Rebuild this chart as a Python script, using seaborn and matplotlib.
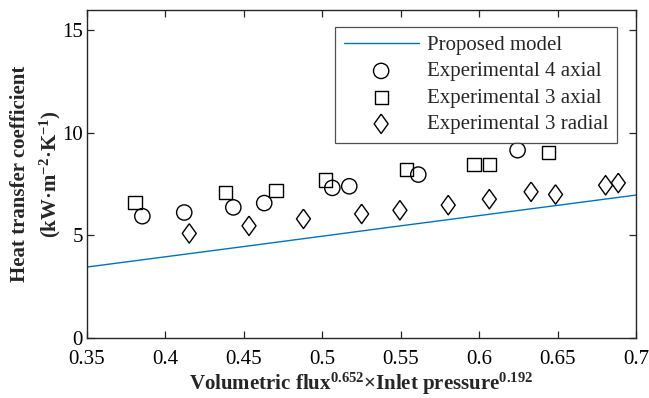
import numpy as np
import pandas as pd
import matplotlib
matplotlib.use("Agg")
import matplotlib.pyplot as plt
import seaborn as sns

# ---- data ----
model_x = [0.35, 0.45, 0.55, 0.70]
model_y = [3.46, 4.46, 5.47, 6.97]

axial4_x = [0.3853, 0.412, 0.4433, 0.463, 0.5064, 0.5172, 0.5612, 0.6245]
axial4_y = [5.94, 6.12, 6.37, 6.58, 7.32, 7.40, 7.97, 9.16]

axial3_x = [0.3806, 0.4384, 0.4705, 0.5019, 0.5538, 0.5967, 0.6065, 0.644]
axial3_y = [6.61, 7.10, 7.21, 7.71, 8.22, 8.48, 8.46, 9.03]

radial3_x = [0.4152, 0.4533, 0.488, 0.5251, 0.5495, 0.5803, 0.6065, 0.6331, 0.6487, 0.6806, 0.6887]
radial3_y = [5.10, 5.47, 5.81, 6.05, 6.23, 6.48, 6.77, 7.13, 7.00, 7.45, 7.56]

xticks = [0.35, 0.4, 0.45, 0.5, 0.55, 0.6, 0.65, 0.7]
xticklabels = ["0.35", "0.4", "0.45", "0.5", "0.55", "0.6", "0.65", "0.7"]
yticks = [0, 5, 10, 15]
yticklabels = ["0", "5", "10", "15"]

labels = ["Proposed model", "Experimental 4 axial", "Experimental 3 axial", "Experimental 3 radial"]

# ---- style ----
sns.set_style("ticks")
plt.rcParams["font.family"] = ["Liberation Serif", "DejaVu Serif"]
plt.rcParams["mathtext.fontset"] = "custom"
plt.rcParams["mathtext.rm"] = "Liberation Serif"
plt.rcParams["mathtext.bf"] = "Liberation Serif:bold"
plt.rcParams["mathtext.it"] = "Liberation Serif:italic"
axcol = "#262626"
fs = 15

fig = plt.figure(figsize=(6.49, 3.98), dpi=100)
ax = fig.add_axes([0.134, 0.1508, 0.846, 0.8242])

sns.lineplot(x=model_x, y=model_y, ax=ax, color="#0072BD", linewidth=1.0, label=labels[0])

diamond = [(0, 1), (0.72, 0), (0, -1), (-0.72, 0), (0, 1)]
sns.scatterplot(x=axial4_x, y=axial4_y, ax=ax, marker="o", s=11**2, facecolor="none",
                edgecolor="black", linewidth=1.0, label=labels[1])
sns.scatterplot(x=axial3_x, y=axial3_y, ax=ax, marker="s", s=9.5**2, facecolor="none",
                edgecolor="black", linewidth=1.0, label=labels[2])
sns.scatterplot(x=radial3_x, y=radial3_y, ax=ax, marker=diamond, s=14**2, facecolor="none",
                edgecolor="black", linewidth=1.0, label=labels[3])

ax.set_xlim(0.35, 0.7)
ax.set_ylim(0, 16)
ax.set_xticks(xticks)
ax.set_xticklabels(xticklabels)
ax.set_yticks(yticks)
ax.set_yticklabels(yticklabels)
ax.tick_params(direction="in", length=5, width=0.9, colors=axcol, labelcolor="black",
               labelsize=fs, top=True, right=True)
ax.tick_params(axis="x", pad=9)
ax.tick_params(axis="y", pad=3)
for sp in ax.spines.values():
    sp.set_visible(True)
    sp.set_color(axcol)
    sp.set_linewidth(1.0)

ax.set_xlabel(r"Volumetric flux$^{\mathbf{0.652}}$×Inlet pressure$^{\mathbf{0.192}}$",
              fontsize=fs, fontweight="bold", labelpad=1)
ax.set_ylabel("Heat transfer coefficient\n" + r"(kW·m$^{\mathbf{-2}}$·K$^{\mathbf{-1}}$)",
              fontsize=fs, fontweight="bold", labelpad=-1, linespacing=1.45)

leg = ax.legend(loc="upper right", bbox_to_anchor=(0.965, 0.948), borderaxespad=0,
                fontsize=fs, frameon=True, fancybox=False, edgecolor=axcol,
                handlelength=3.6, handletextpad=0.4, labelspacing=0.33,
                borderpad=0.4)
leg.get_frame().set_linewidth(0.9)

fig.savefig("out.png", dpi=100)
